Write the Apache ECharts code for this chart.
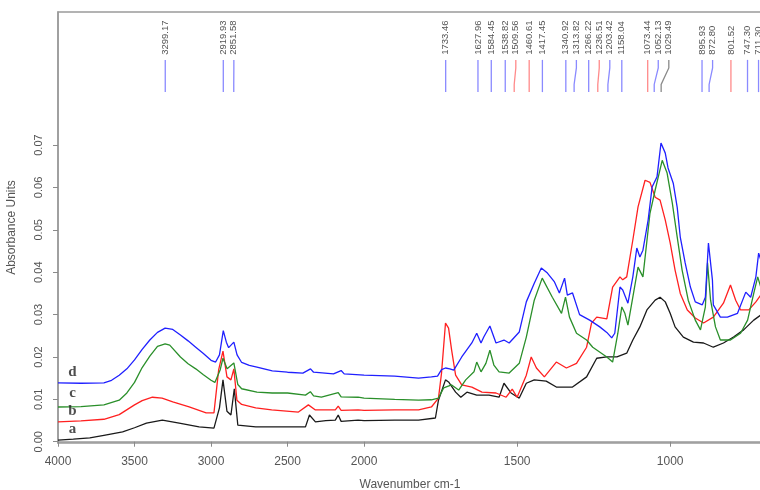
<!DOCTYPE html>
<html><head><meta charset="utf-8">
<script src="https://cdn.jsdelivr.net/npm/echarts@6/dist/echarts.min.js"></script>
<style>html,body{margin:0;padding:0;background:#fff}#c{width:760px;height:490px}</style>
</head><body><div id="c"></div>
<script>
// ---- data (wavenumber cm-1, absorbance) ----
const wnD=[4000,3850,3700,3650,3600,3550,3500,3450,3400,3350,3300,3250,3200,3150,3100,3050,3000,2970,2945,2920,2900,2885,2851,2830,2800,2750,2700,2600,2500,2400,2350,2330,2200,2150,2130,2000,1900,1822,1780,1760,1747,1734,1720,1707,1681,1648,1632,1618,1609,1589,1569,1543,1526,1493,1470,1444,1421,1401,1378,1362,1345,1336,1319,1296,1263,1230,1207,1191,1181,1164,1155,1138,1122,1109,1099,1089,1072,1059,1043,1030,1016,1007,990,977,967,951,934,918,895,885,875,862,859,836,813,780,753,737,720,711,704];
const absD=[0.0139,0.0138,0.0139,0.0145,0.0157,0.0172,0.0193,0.0218,0.0240,0.0258,0.0268,0.0265,0.0252,0.0238,0.0223,0.0208,0.0192,0.0188,0.0205,0.0262,0.0235,0.0222,0.0235,0.0205,0.0187,0.0180,0.0176,0.0167,0.0164,0.0162,0.0172,0.0164,0.0160,0.0168,0.0160,0.0157,0.0155,0.0150,0.0153,0.0155,0.0170,0.0174,0.0172,0.0169,0.0200,0.0233,0.0256,0.0233,0.0247,0.0273,0.0233,0.0240,0.0233,0.0259,0.0330,0.0374,0.0410,0.0398,0.0377,0.0351,0.0386,0.0346,0.0351,0.0300,0.0287,0.0271,0.0258,0.0245,0.0256,0.0365,0.0358,0.0327,0.0389,0.0457,0.0436,0.0452,0.0523,0.0601,0.0625,0.0705,0.0681,0.0646,0.0610,0.0553,0.0483,0.0422,0.0365,0.0330,0.0323,0.0341,0.0469,0.0382,0.0323,0.0294,0.0294,0.0303,0.0353,0.0341,0.0389,0.0445,0.0429];

const wnC=[4000,3850,3700,3600,3550,3500,3450,3400,3350,3300,3270,3200,3150,3100,3050,3000,2975,2940,2922,2895,2851,2825,2800,2700,2600,2500,2383,2351,2330,2279,2169,2150,2039,2000,1900,1822,1780,1757,1740,1714,1691,1668,1641,1632,1618,1602,1589,1576,1559,1526,1493,1470,1444,1418,1385,1355,1342,1329,1306,1273,1253,1207,1188,1171,1158,1148,1138,1122,1105,1089,1066,1049,1026,1010,993,977,961,941,918,901,885,878,868,852,836,803,770,747,727,714,704];
const absC=[0.0082,0.0083,0.0087,0.0098,0.0115,0.0140,0.0175,0.0202,0.0225,0.0231,0.0228,0.0200,0.0184,0.0172,0.0158,0.0145,0.0140,0.0170,0.0197,0.0172,0.0186,0.0135,0.0125,0.0117,0.0115,0.0115,0.0110,0.0118,0.0108,0.0105,0.0116,0.0106,0.0105,0.0103,0.0100,0.0098,0.0099,0.0103,0.0127,0.0134,0.0122,0.0146,0.0165,0.0188,0.0165,0.0185,0.0216,0.0181,0.0165,0.0162,0.0185,0.0247,0.0334,0.0386,0.0341,0.0303,0.0341,0.0294,0.0256,0.0240,0.0223,0.0200,0.0188,0.0256,0.0318,0.0303,0.0275,0.0341,0.0412,0.0389,0.0539,0.0594,0.0664,0.0634,0.0563,0.0483,0.0405,0.0334,0.0287,0.0264,0.0318,0.0422,0.0334,0.0271,0.0240,0.0240,0.0256,0.0287,0.0350,0.0389,0.0365];

const wnB=[4000,3850,3700,3600,3500,3450,3383,3320,3250,3143,3032,2981,2950,2922,2896,2870,2851,2831,2800,2708,2604,2429,2364,2318,2188,2169,2150,2039,2000,1900,1822,1780,1757,1747,1734,1724,1714,1701,1681,1648,1615,1569,1536,1516,1500,1470,1454,1437,1411,1372,1339,1306,1273,1257,1240,1207,1188,1164,1155,1142,1122,1105,1082,1066,1049,1033,1016,1000,984,967,944,918,891,859,826,803,786,770,743,720,704];
const absB=[0.0047,0.0049,0.0053,0.0064,0.0087,0.0097,0.0105,0.0103,0.0094,0.0082,0.0068,0.0068,0.0170,0.0214,0.0153,0.0146,0.0172,0.0098,0.0088,0.0080,0.0075,0.0070,0.0087,0.0075,0.0075,0.0084,0.0074,0.0075,0.0074,0.0075,0.0075,0.0082,0.0103,0.0162,0.0280,0.0268,0.0216,0.0157,0.0134,0.0129,0.0117,0.0115,0.0105,0.0124,0.0105,0.0157,0.0200,0.0174,0.0153,0.0188,0.0174,0.0185,0.0223,0.0280,0.0294,0.0290,0.0365,0.0389,0.0382,0.0389,0.0476,0.0554,0.0617,0.0612,0.0577,0.0570,0.0523,0.0469,0.0405,0.0350,0.0311,0.0292,0.0280,0.0294,0.0327,0.0370,0.0334,0.0311,0.0311,0.0330,0.0346];

const wnA=[4000,3900,3792,3700,3578,3500,3422,3318,3208,3078,2981,2945,2922,2896,2870,2848,2825,2708,2500,2383,2357,2318,2250,2188,2169,2150,2039,2000,1900,1822,1767,1757,1734,1724,1701,1684,1664,1632,1592,1559,1543,1520,1493,1470,1444,1405,1372,1319,1273,1240,1207,1174,1142,1122,1099,1076,1049,1033,1016,1000,984,957,924,891,859,826,793,760,727,704];
const absA=[0.0004,0.0006,0.0009,0.0015,0.0023,0.0033,0.0044,0.0051,0.0044,0.0035,0.0032,0.0080,0.0146,0.0072,0.0063,0.0125,0.0039,0.0035,0.0035,0.0035,0.0063,0.0047,0.0050,0.0051,0.0063,0.0048,0.0051,0.0050,0.0051,0.0051,0.0056,0.0098,0.0146,0.0141,0.0117,0.0105,0.0117,0.0110,0.0110,0.0105,0.0138,0.0115,0.0103,0.0138,0.0146,0.0143,0.0129,0.0129,0.0153,0.0197,0.0200,0.0200,0.0209,0.0240,0.0271,0.0311,0.0334,0.0341,0.0330,0.0303,0.0271,0.0247,0.0235,0.0233,0.0223,0.0233,0.0247,0.0264,0.0287,0.0299];

const peakWn=[3299.17,2919.93,2851.58,1733.46,1627.96,1584.45,1538.82,1509.56,1460.61,1417.45,1340.92,1313.82,1266.22,1236.51,1203.42,1158.04,1073.44,1052.13,1029.49,895.93,872.80,801.52,747.30,711.30];
const peakSrc=['d','d','d','d','d','d','d','b','b','d','d','d','d','b','d','d','b','d','a','d','d','b','d','d'];
const curveNames=['a','b','c','d'];
const letterAbs=[0.0030,0.0072,0.0115,0.0164];
const xTickWn=[4000,3500,3000,2500,2000,1500,1000];
const yTicks=[0,0.01,0.02,0.03,0.04,0.05,0.06,0.07];

// ---- axis transform: 4000-2000 region compressed by half ----
function tx(w){return w<=2000?w:2000+(w-2000)/2;}
function inv(v){return v<=2000?v:2000+(v-2000)*2;}
function pairs(ws,vs){return ws.map((w,i)=>[tx(w),vs[i]]);}

const lineColors={a:'#1a1a1a',b:'#ff2020',c:'#2a8f2a',d:'#2020ff'};
const markColors={a:'#8a8a8a',b:'#ff8a8a',c:'#8fcf8f',d:'#8a8aff'};

// label positions pushed apart
const minGap=34.5;
const labT=[];
peakWn.forEach((w,i)=>{const t=tx(w);labT.push(i===0?t:Math.min(t,labT[i-1]-minGap));});

const chart=echarts.init(document.getElementById('c'),null,{renderer:'canvas'});
const FONT='"Liberation Sans", Arial, sans-serif';
const mkTop=0.0901, mkBend1=0.0882, mkBend2=0.0843, mkBot=0.0825, txtBase=0.0913;

function lineSeries(name,ws,vs){
  return {type:'line',name,data:pairs(ws,vs),showSymbol:false,symbol:'none',
    lineStyle:{color:lineColors[name],width:1.3},z:3,animation:false};
}

chart.setOption({
  animation:false,
  grid:{left:58,right:-2,top:12,bottom:47,containLabel:false,outerBoundsMode:'none',show:true,borderColor:'#9a9a9a',borderWidth:1.5},
  xAxis:{type:'value',inverse:true,min:700,max:3000,
    axisLine:{show:true,lineStyle:{color:'#9a9a9a',width:1.5}},
    axisTick:{show:true,length:5,customValues:xTickWn.map(tx),lineStyle:{color:'#8a8a8a',width:1}},
    axisLabel:{customValues:xTickWn.map(tx),formatter:v=>String(Math.round(inv(v))),color:'#555',fontSize:12,fontFamily:FONT,margin:13},
    splitLine:{show:false},
    name:'Wavenumber cm-1',nameLocation:'middle',nameGap:36,nameTextStyle:{color:'#555',fontSize:12,fontFamily:FONT}},
  yAxis:{type:'value',min:-0.0003,max:0.1014,
    axisLine:{show:true,lineStyle:{color:'#9a9a9a',width:1.5}},
    axisTick:{show:true,length:5,customValues:yTicks,lineStyle:{color:'#8a8a8a',width:1}},
    axisLabel:{customValues:yTicks,rotate:90,formatter:v=>v.toFixed(2),color:'#555',fontSize:11,fontFamily:FONT,margin:14},
    splitLine:{show:false},
    name:'Absorbance Units',nameLocation:'middle',nameGap:40,nameRotate:90,nameTextStyle:{color:'#555',fontSize:12,fontFamily:FONT}},
  series:[
    lineSeries('a',wnA,absA),
    lineSeries('b',wnB,absB),
    lineSeries('c',wnC,absC),
    lineSeries('d',wnD,absD),
    {type:'custom',name:'peaks',coordinateSystem:'cartesian2d',silent:true,z:4,
      data:peakWn.map((w,i)=>[tx(w),mkBot,i]),
      renderItem:function(params,api){
        const i=params.dataIndex;
        const t=tx(peakWn[i]), lt=labT[i];
        const p1=api.coord([lt,mkTop]),p2=api.coord([lt,mkBend1]),p3=api.coord([t,mkBend2]),p4=api.coord([t,mkBot]);
        const pt=api.coord([lt,txtBase]);
        return {type:'group',children:[
          {type:'polyline',shape:{points:[p1,p2,p3,p4]},style:{stroke:markColors[peakSrc[i]],lineWidth:1.3,fill:null}},
          {type:'text',x:pt[0],y:pt[1],rotation:Math.PI/2,
            style:{text:peakWn[i].toFixed(2),fill:'#555',font:'9.5px '+FONT,align:'left',verticalAlign:'middle'}}
        ]};
      }},
    {type:'scatter',name:'letters',symbolSize:0,silent:true,z:5,
      data:curveNames.map((n,i)=>({value:[tx(3905),letterAbs[i]],name:n})),
      label:{show:true,position:'inside',formatter:p=>p.name,color:'#222',fontSize:15,fontWeight:'bold',fontFamily:'"Liberation Serif","DejaVu Serif",serif'}}
  ]
});
</script></body></html>
